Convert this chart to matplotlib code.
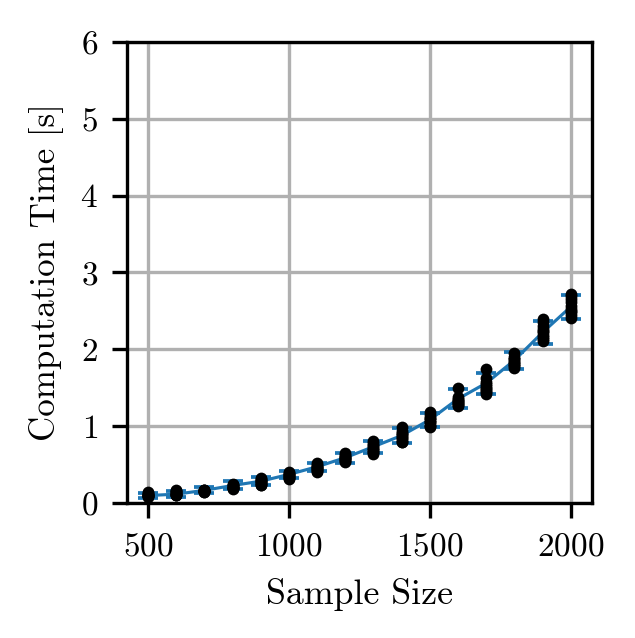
import matplotlib
matplotlib.use("Agg")
import matplotlib.pyplot as plt
import numpy as np

plt.rcParams['font.family'] = 'serif'
plt.rcParams['font.serif'] = ['cmr10', 'DejaVu Serif']
plt.rcParams['mathtext.fontset'] = 'cm'
plt.rcParams['axes.unicode_minus'] = False
plt.rcParams['axes.formatter.use_mathtext'] = True
plt.rcParams['font.size'] = 8

sizes = [500, 600, 700, 800, 900, 1000, 1100, 1200, 1300, 1400,
         1500, 1600, 1700, 1800, 1900, 2000]
mean_time = [0.097, 0.115, 0.165, 0.228, 0.284, 0.372, 0.472, 0.590,
             0.733, 0.878, 1.084, 1.355, 1.560, 1.857, 2.219, 2.553]
std_time = [0.037, 0.040, 0.040, 0.052, 0.050, 0.048, 0.052, 0.065,
            0.078, 0.100, 0.091, 0.125, 0.137, 0.108, 0.154, 0.153]

runs = [
    [0.08, 0.09, 0.10, 0.11, 0.12, 0.13, 0.09, 0.10, 0.14, 0.085],
    [0.10, 0.11, 0.12, 0.13, 0.15, 0.17, 0.105, 0.12, 0.14, 0.16],
    [0.14, 0.15, 0.16, 0.17, 0.155, 0.145, 0.165, 0.15, 0.16, 0.17],
    [0.18, 0.19, 0.20, 0.22, 0.24, 0.25, 0.21, 0.23, 0.19, 0.20],
    [0.23, 0.25, 0.26, 0.28, 0.30, 0.32, 0.27, 0.29, 0.24, 0.31],
    [0.31, 0.33, 0.35, 0.37, 0.39, 0.40, 0.34, 0.36, 0.38, 0.32],
    [0.40, 0.42, 0.44, 0.46, 0.48, 0.50, 0.52, 0.43, 0.45, 0.47],
    [0.53, 0.55, 0.57, 0.59, 0.61, 0.63, 0.655, 0.56, 0.58, 0.60],
    [0.64, 0.66, 0.69, 0.72, 0.75, 0.78, 0.81, 0.67, 0.70, 0.74],
    [0.79, 0.82, 0.85, 0.88, 0.91, 0.94, 0.99, 0.80, 0.86, 0.90],
    [0.99, 1.02, 1.05, 1.08, 1.11, 1.14, 1.18, 1.00, 1.06, 1.10],
    [1.26, 1.28, 1.30, 1.32, 1.34, 1.36, 1.38, 1.29, 1.33, 1.50],
    [1.42, 1.45, 1.48, 1.52, 1.55, 1.58, 1.63, 1.46, 1.50, 1.75],
    [1.76, 1.78, 1.81, 1.84, 1.87, 1.90, 1.95, 1.79, 1.83, 1.88],
    [2.11, 2.14, 2.18, 2.22, 2.26, 2.30, 2.35, 2.39, 2.16, 2.24],
    [2.41, 2.45, 2.49, 2.53, 2.57, 2.61, 2.65, 2.69, 2.72, 2.50],
]

fig = plt.figure(figsize=(635 / 300, 638 / 300), dpi=300)
ax = fig.add_axes([0.2, 0.2116, 0.732, 0.7226])

ax.errorbar(sizes, mean_time, yerr=std_time, color='#1f77b4',
            linewidth=0.75, elinewidth=0.75, capsize=2.4, capthick=0.9,
            zorder=2)
for s, r in zip(sizes, runs):
    ax.scatter([s] * len(r), r, s=8, color='black', zorder=3,
               linewidths=0)

ax.set_ylim(0, 6)
ax.set_xticks([500, 1000, 1500, 2000])
ax.set_yticks([0, 1, 2, 3, 4, 5, 6])
ax.grid(True, color='#b0b0b0', linewidth=0.8)
ax.set_axisbelow(True)
ax.set_xlabel('Sample Size', fontsize=8.6)
ax.set_ylabel('Computation Time [s]', fontsize=8.4)

fig.savefig('out.png', dpi=300)
